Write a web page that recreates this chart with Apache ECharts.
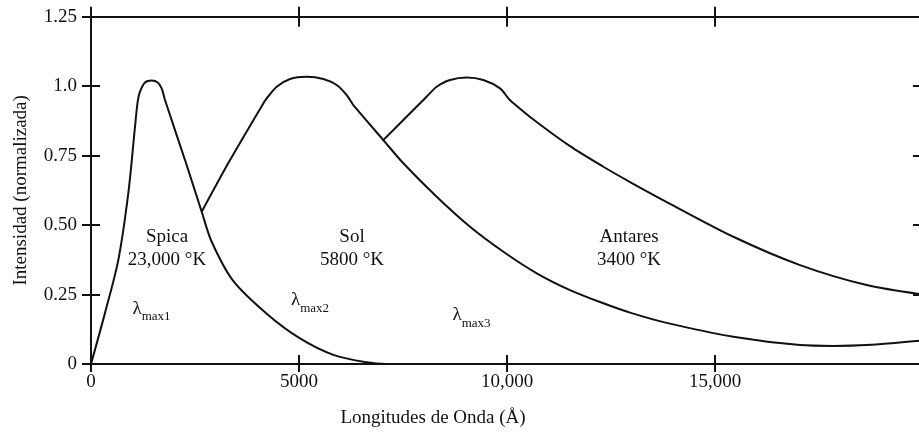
<!DOCTYPE html>
<html>
<head>
<meta charset="utf-8">
<script src="https://cdn.jsdelivr.net/npm/echarts@6/dist/echarts.min.js"></script>
<style>
html, body { margin: 0; padding: 0; background: #fff; }
#main { width: 919px; height: 432px; }
</style>
</head>
<body>
<div id="main"></div>
<script>
// curves: [wavelength (Å), normalized intensity]
const spica = [
  [0, 0], [337, 0.184], [656, 0.374], [897, 0.615], [1058, 0.854], [1122, 0.944],
  [1178, 0.98], [1298, 1.013], [1459, 1.02], [1603, 1.013], [1699, 0.992], [1779, 0.95],
  [2260, 0.734], [2661, 0.548], [2901, 0.44], [3414, 0.30], [4231, 0.18],
  [5024, 0.092], [5825, 0.033], [6628, 0.006], [7109, 0], [8310, 0]
];
const sol = [
  [2661, 0.548], [3342, 0.734], [4142, 0.938], [4224, 0.956], [4464, 0.998],
  [4784, 1.026], [5185, 1.034], [5585, 1.026], [5906, 1.004], [6147, 0.968],
  [6267, 0.941], [6306, 0.932], [7027, 0.806], [7508, 0.7225], [8310, 0.602],
  [9111, 0.494], [9913, 0.404], [10715, 0.3265], [11515, 0.266], [12316, 0.2185],
  [12958, 0.185], [13840, 0.148], [15441, 0.098], [17044, 0.068], [17845, 0.065],
  [18648, 0.068], [20000, 0.085]
];
const antares = [
  [7012, 0.804], [7508, 0.878], [7989, 0.950], [8150, 0.975], [8310, 0.998],
  [8631, 1.022], [9032, 1.031], [9431, 1.022], [9833, 0.992], [10033, 0.956],
  [10113, 0.944], [10634, 0.880], [11515, 0.784], [12316, 0.710], [12958, 0.655],
  [13840, 0.583], [15441, 0.458], [17044, 0.356], [18648, 0.284], [20000, 0.250]
];

// tick labels
const xTickText = { 0: '0', 5000: '5000', 10000: '10,000', 15000: '15,000' };
const yTickText = { 0: '0', 0.25: '0.25', 0.5: '0.50', 0.75: '0.75', 1: '1.0', 1.25: '1.25' };

// annotations
const starNames = ['Spica\n23,000 °K', 'Sol\n5800 °K', 'Antares\n3400 °K'];
const starX = [1827, 6274, 12934];
const starY = [0.414, 0.414, 0.414];
const lambdaSub = ['max1', 'max2', 'max3'];
const lambdaX = [1454, 5265, 9147];
const lambdaY = [0.18, 0.212, 0.158];

const font = "'Liberation Serif', 'Times New Roman', serif";
const ink = '#111';

// ECharts has no crossing ticks, so each side gets an outer and an inner axis
const xAxisBase = {
  type: 'value', min: 0, max: 20000, interval: 5000,
  axisLine: { onZero: false, lineStyle: { color: ink, width: 2 } },
  splitLine: { show: false },
  axisLabel: { show: false }
};
const yAxisBase = {
  type: 'value', min: 0, max: 1.25, interval: 0.25,
  axisLine: { onZero: false, lineStyle: { color: ink, width: 2 } },
  splitLine: { show: false },
  axisLabel: { show: false }
};
const curveStyle = { color: ink, width: 2 };

const option = {
  animation: false,
  backgroundColor: '#fff',
  // plot runs a few pixels past the right edge of the picture, as in the original
  grid: { left: 91, width: 832, top: 16.7, bottom: 68, outerBoundsMode: 'none', containLabel: false },
  xAxis: [
    {
      ...xAxisBase, position: 'bottom',
      axisTick: { inside: false, length: 8, lineStyle: { color: ink, width: 2 } },
      axisLabel: {
        show: true, margin: 9, showMaxLabel: false,
        color: ink, fontFamily: font, fontSize: 19,
        formatter: v => xTickText[v] ?? ''
      },
      name: 'Longitudes de Onda (Å)',
      nameLocation: 'middle',
      nameGap: 45,
      nameTextStyle: { color: ink, fontFamily: font, fontSize: 19, padding: [0, 148, 0, 0] }
    },
    { ...xAxisBase, position: 'bottom', axisTick: { inside: true, length: 9, lineStyle: { color: ink, width: 2 } } },
    { ...xAxisBase, position: 'top', axisTick: { inside: false, length: 10, lineStyle: { color: ink, width: 2 } } },
    { ...xAxisBase, position: 'top', axisTick: { inside: true, length: 10, lineStyle: { color: ink, width: 2 } } }
  ],
  yAxis: [
    {
      ...yAxisBase, position: 'left',
      axisTick: { inside: false, length: 9, lineStyle: { color: ink, width: 2 } },
      axisLabel: {
        show: true, margin: 14,
        color: ink, fontFamily: font, fontSize: 19,
        formatter: v => yTickText[v] ?? ''
      },
      name: 'Intensidad (normalizada)',
      nameLocation: 'middle',
      nameGap: 60,
      nameTextStyle: { color: ink, fontFamily: font, fontSize: 19 }
    },
    { ...yAxisBase, position: 'left', axisTick: { inside: true, length: 9, lineStyle: { color: ink, width: 2 } } },
    { ...yAxisBase, position: 'right', axisTick: { inside: false, length: 9, lineStyle: { color: ink, width: 2 } } },
    { ...yAxisBase, position: 'right', axisTick: { inside: true, length: 10, lineStyle: { color: ink, width: 2 } } }
  ],
  series: [
    { name: 'Spica', type: 'line', data: spica, symbol: 'none', smooth: 0.3, lineStyle: curveStyle },
    { name: 'Sol', type: 'line', data: sol, symbol: 'none', smooth: 0.3, lineStyle: curveStyle },
    { name: 'Antares', type: 'line', data: antares, symbol: 'none', smooth: 0.3, lineStyle: curveStyle },
    {
      type: 'scatter', symbolSize: 0, silent: true, itemStyle: { opacity: 1, color: ink },
      data: starNames.map((n, i) => ({ name: n, value: [starX[i], starY[i]] })),
      label: {
        show: true, position: 'inside', formatter: p => p.name,
        color: ink, textBorderWidth: 0, fontFamily: font, fontSize: 19, lineHeight: 23, align: 'center'
      }
    },
    {
      type: 'scatter', symbolSize: 0, silent: true, itemStyle: { opacity: 1, color: ink },
      data: lambdaSub.map((n, i) => ({ name: n, value: [lambdaX[i], lambdaY[i]] })),
      label: {
        show: true, position: 'inside', textBorderWidth: 0,
        formatter: p => '{l|λ}{s|' + p.name + '}',
        rich: {
          l: { color: ink, fontFamily: font, fontSize: 19, lineHeight: 19, verticalAlign: 'bottom', padding: [0, 0, 5, 0] },
          s: { color: ink, fontFamily: font, fontSize: 13, lineHeight: 13, verticalAlign: 'bottom' }
        }
      }
    }
  ]
};

const chart = echarts.init(document.getElementById('main'));
chart.setOption(option);
</script>
</body>
</html>
